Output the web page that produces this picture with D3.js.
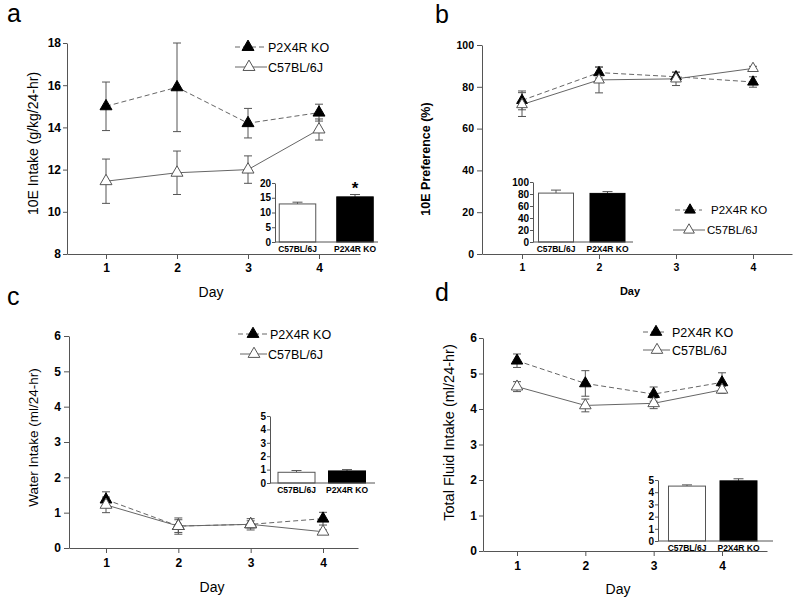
<!DOCTYPE html>
<html><head><meta charset="utf-8">
<script src="https://cdn.jsdelivr.net/npm/d3@7"></script>
<style>body{margin:0;background:#fff} svg{display:block;font-family:"Liberation Sans",Arial,sans-serif}</style>
</head><body><svg id="chart" width="800" height="605"></svg>
<script>
// ---------- DATA ----------
const days = [1, 2, 3, 4];
const groups = ["C57BL/6J", "P2X4R KO"];
const seriesNames = ["P2X4R KO", "C57BL/6J"];
const panelLetters = ["a", "b", "c", "d"];
const xTitle = "Day";

// a: 10E intake
const intakeKO = [15.0, 15.9, 14.2, 14.7];
const intakeKOErr = [1.15, 2.1, 0.7, 0.4];
const intakeWT = [11.45, 11.85, 12.0, 13.9];
const intakeWTErr = [1.05, 1.03, 0.65, 0.5];
const intakeBars = [12.9, 15.3];
const intakeBarsErr = [0.6, 0.8];
const intakeTicks = [8, 10, 12, 14, 16, 18];
const intakeBarTicks = [0, 5, 10, 15, 20];

// b: 10E preference
const prefKO = [73.5, 86.8, 84.8, 82.3];
const prefKOErr = [4.5, 2.6, 2.2, 2.5];
const prefWT = [71.5, 83.3, 83.8, 88.8];
const prefWTErr = [5.7, 6.2, 3.2, 1.0];
const prefBars = [81.5, 81.0];
const prefBarsErr = [5.0, 3.0];
const prefTicks = [0, 20, 40, 60, 80, 100];
const prefBarTicks = [0, 20, 40, 60, 80, 100];

// c: water intake
const waterKO = [1.37, 0.62, 0.67, 0.83];
const waterKOErr = [0.22, 0.23, 0.16, 0.18];
const waterWT = [1.22, 0.62, 0.67, 0.46];
const waterWTErr = [0.22, 0.18, 0.1, 0.05];
const waterBars = [0.8, 0.9];
const waterBarsErr = [0.13, 0.1];
const waterTicks = [0, 1, 2, 3, 4, 5, 6];
const waterBarTicks = [0, 1, 2, 3, 4, 5];

// d: total fluid intake
const totalKO = [5.36, 4.72, 4.42, 4.75];
const totalKOErr = [0.19, 0.36, 0.2, 0.27];
const totalWT = [4.63, 4.1, 4.16, 4.54];
const totalWTErr = [0.14, 0.18, 0.15, 0.1];
const totalBars = [4.5, 4.93];
const totalBarsErr = [0.1, 0.17];
const totalTicks = [0, 1, 2, 3, 4, 5, 6];
const totalBarTicks = [0, 1, 2, 3, 4, 5];

const yTitles = ["10E Intake (g/kg/24-hr)", "10E Preference (%)", "Water Intake (ml/24-hr)", "Total Fluid Intake (ml/24-hr)"];

// ---------- LAYOUT ----------
const svg = d3.select("#chart");
const AX = "#555", LN = "#666";
const fmt = d3.format("d");

const panels = [
  { letter: panelLetters[0], lx: 7, ly: 22,
    ko: intakeKO, koErr: intakeKOErr, wt: intakeWT, wtErr: intakeWTErr, yTicks: intakeTicks,
    dayRange: [106, 319], xExtent: [67, 360], yRange: [254, 43], tickFont: 12, yts: 4, ypad: 2, xts: 5, xpad: 4.5,
    yTitle: yTitles[0], yt: [38, 143.5], ytFont: 14, ytWeight: "normal", dayPos: [211, 297], dayFont: 14, dayWeight: "normal",
    sym: 62,
    legend: { font: 12.5, rows: [{ y: 47, x0: 235, x1: 267, mx: 248, tx: 268 }, { y: 67, x0: 235, x1: 267, mx: 249, tx: 268 }] },
    inset: { bars: intakeBars, err: intakeBarsErr, ticks: intakeBarTicks, ax: 275, xEnd: 378, y0: 242, yTop: 183, c0: 297.5, step: 57.5, bw: 36.5, star: true } },
  { letter: panelLetters[1], lx: 435, ly: 23,
    ko: prefKO, koErr: prefKOErr, wt: prefWT, wtErr: prefWTErr, yTicks: prefTicks,
    dayRange: [522, 753], xExtent: [482, 792], yRange: [254, 45], tickFont: 10.5, yts: 5, ypad: 3, xts: 5, xpad: 4.5,
    yTitle: yTitles[1], yt: [430, 159], ytFont: 12.5, ytWeight: "bold", dayPos: [630, 295], dayFont: 11, dayWeight: "bold",
    sym: 50,
    legend: { font: 11.5, rows: [{ y: 210, x0: 675, x1: 702, mx: 690, tx: 711 }, { y: 230, x0: 673, x1: 705, mx: 689, tx: 707 }] },
    inset: { bars: prefBars, err: prefBarsErr, ticks: prefBarTicks, ax: 533, xEnd: 633, y0: 242, yTop: 182, c0: 556, step: 51.5, bw: 35, star: false } },
  { letter: panelLetters[2], lx: 7, ly: 305,
    ko: waterKO, koErr: waterKOErr, wt: waterWT, wtErr: waterWTErr, yTicks: waterTicks,
    dayRange: [106, 323], xExtent: [69, 358], yRange: [548, 336], tickFont: 12, yts: 5, ypad: 3, xts: 5, xpad: 5.5,
    yTitle: yTitles[2], yt: [37.5, 437.5], ytFont: 13.5, ytWeight: "normal", dayPos: [212, 592], dayFont: 14, dayWeight: "normal",
    sym: 60,
    legend: { font: 12.5, rows: [{ y: 334, x0: 238, x1: 268, mx: 253, tx: 270 }, { y: 354, x0: 240, x1: 267, mx: 254, tx: 268 }] },
    inset: { bars: waterBars, err: waterBarsErr, ticks: waterBarTicks, ax: 270, xEnd: 375, y0: 483, yTop: 416, c0: 296.5, step: 50.5, bw: 37, star: false } },
  { letter: panelLetters[3], lx: 435, ly: 301,
    ko: totalKO, koErr: totalKOErr, wt: totalWT, wtErr: totalWTErr, yTicks: totalTicks,
    dayRange: [517, 722], xExtent: [483, 767], yRange: [551, 338], tickFont: 12, yts: 4, ypad: 2, xts: 5, xpad: 5,
    yTitle: yTitles[3], yt: [454, 432.5], ytFont: 14.5, ytWeight: "normal", dayPos: [618, 594], dayFont: 14, dayWeight: "normal",
    sym: 58,
    legend: { font: 12.5, rows: [{ y: 332, x0: 643, x1: 667, mx: 656, tx: 672 }, { y: 350, x0: 643, x1: 670, mx: 657, tx: 672 }] },
    inset: { bars: totalBars, err: totalBarsErr, ticks: totalBarTicks, ax: 658, xEnd: 773, y0: 541, yTop: 480, c0: 687, step: 51.5, bw: 37, star: false } }
];

function styleAxis(sel, font) {
  sel.select(".domain").attr("stroke", AX).attr("stroke-width", 1);
  sel.selectAll(".tick line").attr("stroke", AX);
  sel.selectAll(".tick text").attr("fill", "#000").attr("font-size", font).attr("font-weight", "bold")
    .attr("font-family", '"Liberation Sans",Arial,sans-serif');
}

function drawPanel(p) {
  const g = svg.append("g");
  g.append("text").attr("x", p.lx).attr("y", p.ly).attr("font-size", 25).text(p.letter);

  const x = d3.scaleLinear().domain([1, 4]).range(p.dayRange);
  const xa = x.copy().domain([x.invert(p.xExtent[0]), x.invert(p.xExtent[1])]).range(p.xExtent);
  const yDom = [p.yTicks[0], p.yTicks[p.yTicks.length - 1]];
  const y = d3.scaleLinear().domain(yDom).range(p.yRange);

  g.append("g").attr("transform", `translate(${p.xExtent[0]},0)`)
    .call(d3.axisLeft(y).tickValues(p.yTicks).tickFormat(fmt).tickSize(p.yts).tickPadding(p.ypad).tickSizeOuter(0))
    .call(s => styleAxis(s, p.tickFont));
  g.append("g").attr("transform", `translate(0,${p.yRange[0]})`)
    .call(d3.axisBottom(xa).tickValues(days).tickFormat(fmt).tickSize(p.xts).tickPadding(p.xpad).tickSizeOuter(0))
    .call(s => styleAxis(s, p.tickFont));

  g.append("text").attr("transform", `translate(${p.yt[0]},${p.yt[1]}) rotate(-90)`)
    .attr("text-anchor", "middle").attr("font-size", p.ytFont).attr("font-weight", p.ytWeight).text(p.yTitle);
  g.append("text").attr("x", p.dayPos[0]).attr("y", p.dayPos[1]).attr("text-anchor", "middle")
    .attr("font-size", p.dayFont).attr("font-weight", p.dayWeight).text(xTitle);

  const series = [
    { vals: p.ko, err: p.koErr, dash: "5,3", fill: "#000" },
    { vals: p.wt, err: p.wtErr, dash: null, fill: "#fff" }
  ];
  // error bars
  series.forEach(s => {
    const eg = g.append("g").attr("stroke", AX).attr("stroke-width", 1);
    days.forEach((d, i) => {
      const lo = y(s.vals[i] - s.err[i]), hi = y(s.vals[i] + s.err[i]);
      eg.append("line").attr("x1", x(d)).attr("x2", x(d)).attr("y1", lo).attr("y2", hi);
      eg.append("line").attr("x1", x(d) - 4).attr("x2", x(d) + 4).attr("y1", lo).attr("y2", lo);
      eg.append("line").attr("x1", x(d) - 4).attr("x2", x(d) + 4).attr("y1", hi).attr("y2", hi);
    });
  });
  // lines
  const line = d3.line().x((d, i) => x(days[i])).y(d => y(d));
  series.forEach(s => {
    g.append("path").attr("d", line(s.vals)).attr("fill", "none").attr("stroke", LN)
      .attr("stroke-width", 1).attr("stroke-dasharray", s.dash);
  });
  // markers
  const sym = d3.symbol().type(d3.symbolTriangle).size(p.sym);
  series.forEach(s => {
    days.forEach((d, i) => {
      g.append("path").attr("d", sym()).attr("transform", `translate(${x(d)},${y(s.vals[i])})`)
        .attr("fill", s.fill).attr("stroke", s.fill === "#000" ? "#000" : AX).attr("stroke-width", 1);
    });
  });

  // legend
  p.legend.rows.forEach((r, i) => {
    const s = series[i];
    g.append("line").attr("x1", r.x0).attr("x2", r.x1).attr("y1", r.y).attr("y2", r.y)
      .attr("stroke", LN).attr("stroke-dasharray", s.dash);
    g.append("path").attr("d", sym()).attr("transform", `translate(${r.mx},${r.y})`)
      .attr("fill", s.fill).attr("stroke", s.fill === "#000" ? "#000" : AX);
    g.append("text").attr("x", r.tx).attr("y", r.y + p.legend.font * 0.36).attr("font-size", p.legend.font).text(seriesNames[i]);
  });

  // inset bar chart
  const ins = p.inset;
  const pad = 1 - ins.bw / ins.step;
  const xb = d3.scaleBand().domain(groups).range([ins.c0 - ins.step / 2, ins.c0 + ins.step * 1.5])
    .paddingInner(pad).paddingOuter(pad / 2);
  const yb = d3.scaleLinear().domain([ins.ticks[0], ins.ticks[ins.ticks.length - 1]]).range([ins.y0, ins.yTop]);
  const ig = g.append("g");
  groups.forEach((c, i) => {
    const v = ins.bars[i], e = ins.err[i];
    const cx = xb(c) + xb.bandwidth() / 2;
    ig.append("line").attr("x1", cx).attr("x2", cx).attr("y1", yb(v)).attr("y2", yb(v + e)).attr("stroke", AX);
    ig.append("line").attr("x1", cx - 5).attr("x2", cx + 5).attr("y1", yb(v + e)).attr("y2", yb(v + e)).attr("stroke", AX);
    ig.append("rect").attr("x", xb(c)).attr("width", xb.bandwidth()).attr("y", yb(v)).attr("height", yb(0) - yb(v))
      .attr("fill", i === 0 ? "#fff" : "#000").attr("stroke", i === 0 ? AX : "#000").attr("stroke-width", 1);
    ig.append("text").attr("x", cx).attr("y", ins.y0 + 10).attr("text-anchor", "middle")
      .attr("font-size", 8.5).attr("font-weight", "bold").text(c);
    if (ins.star && i === 1) {
      ig.append("text").attr("x", cx).attr("y", yb(v + e) - 1).attr("text-anchor", "middle")
        .attr("font-size", 17).attr("font-weight", "bold").text("*");
    }
  });
  ig.append("g").attr("transform", `translate(${ins.ax},0)`)
    .call(d3.axisLeft(yb).tickValues(ins.ticks).tickFormat(fmt).tickSize(3).tickPadding(1).tickSizeOuter(0))
    .call(s => styleAxis(s, 10));
  ig.append("line").attr("x1", ins.ax).attr("x2", ins.xEnd).attr("y1", ins.y0).attr("y2", ins.y0).attr("stroke", AX);
}

panels.forEach(drawPanel);
</script>
</body></html>
